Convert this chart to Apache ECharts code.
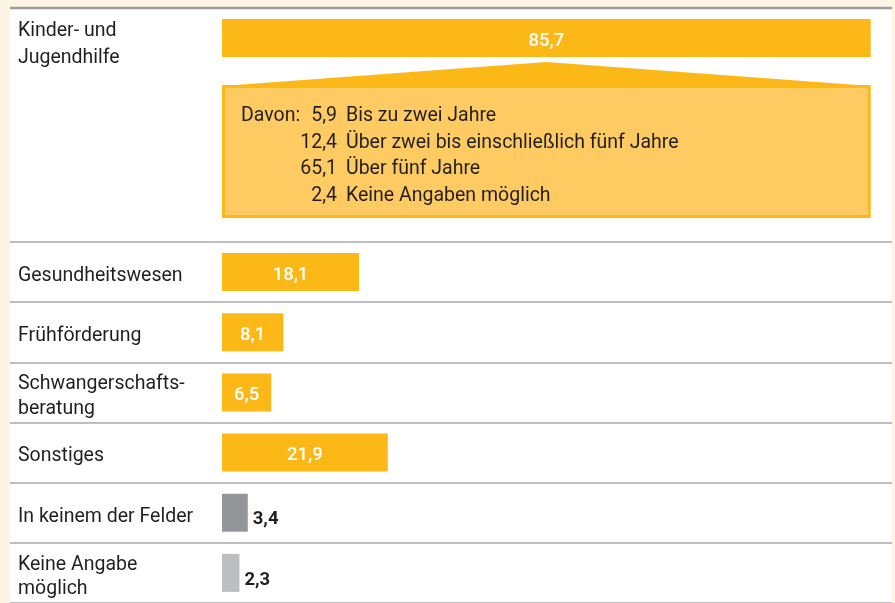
<!DOCTYPE html>
<html>
<head>
<meta charset="utf-8">
<script src="https://cdn.jsdelivr.net/npm/echarts@6/dist/echarts.min.js"></script>
<style>
html, body { margin: 0; padding: 0; background: #fdf4e3; }
#main { width: 895px; height: 603px; }
</style>
</head>
<body>
<div id="main"></div>
<script>
// Daten
var topCategory = ['Kinder- und\nJugendhilfe'];
var topValue = [85.7];
var breakdownValues = [5.9, 12.4, 65.1, 2.4];
var breakdownLabels = ['Bis zu zwei Jahre', 'Über zwei bis einschließlich fünf Jahre', 'Über fünf Jahre', 'Keine Angaben möglich'];
var categories = ['Gesundheitswesen', 'Frühförderung', 'Schwangerschafts-\nberatung', 'Sonstiges', 'In keinem der Felder', 'Keine Angabe\nmöglich'];
var values = [18.1, 8.1, 6.5, 21.9, 3.4, 2.3];

var yellow = '#fbb817';
var boxFill = '#fecb63';
var textColor = '#231f20';
var font = 'Roboto, sans-serif';
// Farben je Balken (unten: grau)
var barColors = [yellow, yellow, yellow, yellow, '#939598', '#bcbec0'];

function fmt(v) {
    return v.toFixed(1).replace('.', ',');
}

// Leerzeile oben schiebt die Beschriftung etwas nach unten
function labelFormatter(v) {
    return '{s| }\n' + v.split('\n').map(function (l) { return '{t|' + l + '}'; }).join('\n');
}

function axisLabelStyle(spacer, lh) {
    return {
        inside: true, margin: 8, align: 'left',
        formatter: labelFormatter,
        rich: {
            s: { fontSize: 1, lineHeight: spacer },
            t: { fontSize: 19.5, lineHeight: lh, fontFamily: font, color: textColor, align: 'left' }
        }
    };
}

var myChart = echarts.init(document.getElementById('main'));

// Kasten "Davon:" unter dem ersten Balken
function renderCallout(params, api) {
    var left = api.coord([0, 0])[0];
    var right = api.coord([api.value(0), 0])[0];
    var mid = (left + right) / 2;
    var f = '19.5px ' + font;
    var children = [
        { type: 'polygon', shape: { points: [[left, 86], [mid, 62], [right, 86]] }, style: { fill: yellow } },
        { type: 'rect', shape: { x: left + 1.5, y: 86.5, width: right - left - 3, height: 130 },
          style: { fill: boxFill, stroke: yellow, lineWidth: 3 } },
        { type: 'text', style: { text: 'Davon:', x: left + 19, y: 116, fill: textColor,
          font: f, textAlign: 'left', textVerticalAlign: 'middle' } }
    ];
    for (var i = 0; i < breakdownValues.length; i++) {
        var y = 116 + i * 26.7;
        children.push({ type: 'text', style: { text: fmt(breakdownValues[i]), x: left + 115, y: y, fill: textColor,
            font: f, textAlign: 'right', textVerticalAlign: 'middle' } });
        children.push({ type: 'text', style: { text: breakdownLabels[i], x: left + 124, y: y, fill: textColor,
            font: f, textAlign: 'left', textVerticalAlign: 'middle' } });
    }
    return { type: 'group', children: children };
}

var xRange = { type: 'value', min: -28.01, max: 88.51, show: false };

var option = {
    backgroundColor: '#fdf4e3',
    animation: false,
    graphic: [
        { type: 'rect', z: -100, shape: { x: 10, y: 8, width: 882, height: 600 }, style: { fill: '#ffffff' } },
        { type: 'line', z: 100, shape: { x1: 10, y1: 8, x2: 892, y2: 8 }, style: { stroke: '#9d9d9d', lineWidth: 2.5 } }
    ],
    grid: [
        { left: 10, right: 3, top: 19, height: 38 },
        { left: 10, right: 3, top: 242, height: 363.6 }
    ],
    xAxis: [
        Object.assign({ gridIndex: 0 }, xRange),
        Object.assign({ gridIndex: 1 }, xRange)
    ],
    yAxis: [
        {
            gridIndex: 0, type: 'category', inverse: true, data: topCategory,
            axisLine: { show: false }, axisTick: { show: false }, splitLine: { show: false },
            axisLabel: axisLabelStyle(14, 27)
        },
        {
            gridIndex: 1, type: 'category', inverse: true, data: categories,
            axisLine: { show: false }, axisTick: { show: false },
            splitLine: { show: true, lineStyle: { color: '#a7a9ac', width: 1.5 } },
            axisLabel: axisLabelStyle(8, 24.5)
        }
    ],
    series: [
        {
            type: 'bar', xAxisIndex: 0, yAxisIndex: 0, barWidth: 38,
            data: topValue,
            itemStyle: { color: yellow },
            label: { show: true, position: 'inside', color: '#ffffff', fontFamily: font, fontSize: 18.5,
                fontWeight: 500, offset: [0, 3], formatter: function (p) { return fmt(p.value); } }
        },
        {
            type: 'custom', xAxisIndex: 0, yAxisIndex: 0, clip: false,
            data: topValue.map(function (v) { return [v, 0]; }),
            encode: { x: 0, y: 1 },
            renderItem: renderCallout
        },
        {
            type: 'bar', xAxisIndex: 1, yAxisIndex: 1, barWidth: 38,
            data: values.map(function (v, i) {
                var grey = barColors[i] !== yellow;
                return {
                    value: v,
                    itemStyle: { color: barColors[i] },
                    label: grey
                        ? { position: 'right', distance: 5, color: textColor, fontWeight: 'bold', offset: [0, 7] }
                        : { position: 'inside', color: '#ffffff', fontWeight: 500, offset: [0, 3] }
                };
            }),
            label: { show: true, fontFamily: font, fontSize: 18.5,
                formatter: function (p) { return fmt(p.value); } }
        }
    ]
};

myChart.setOption(option);
</script>
</body>
</html>
